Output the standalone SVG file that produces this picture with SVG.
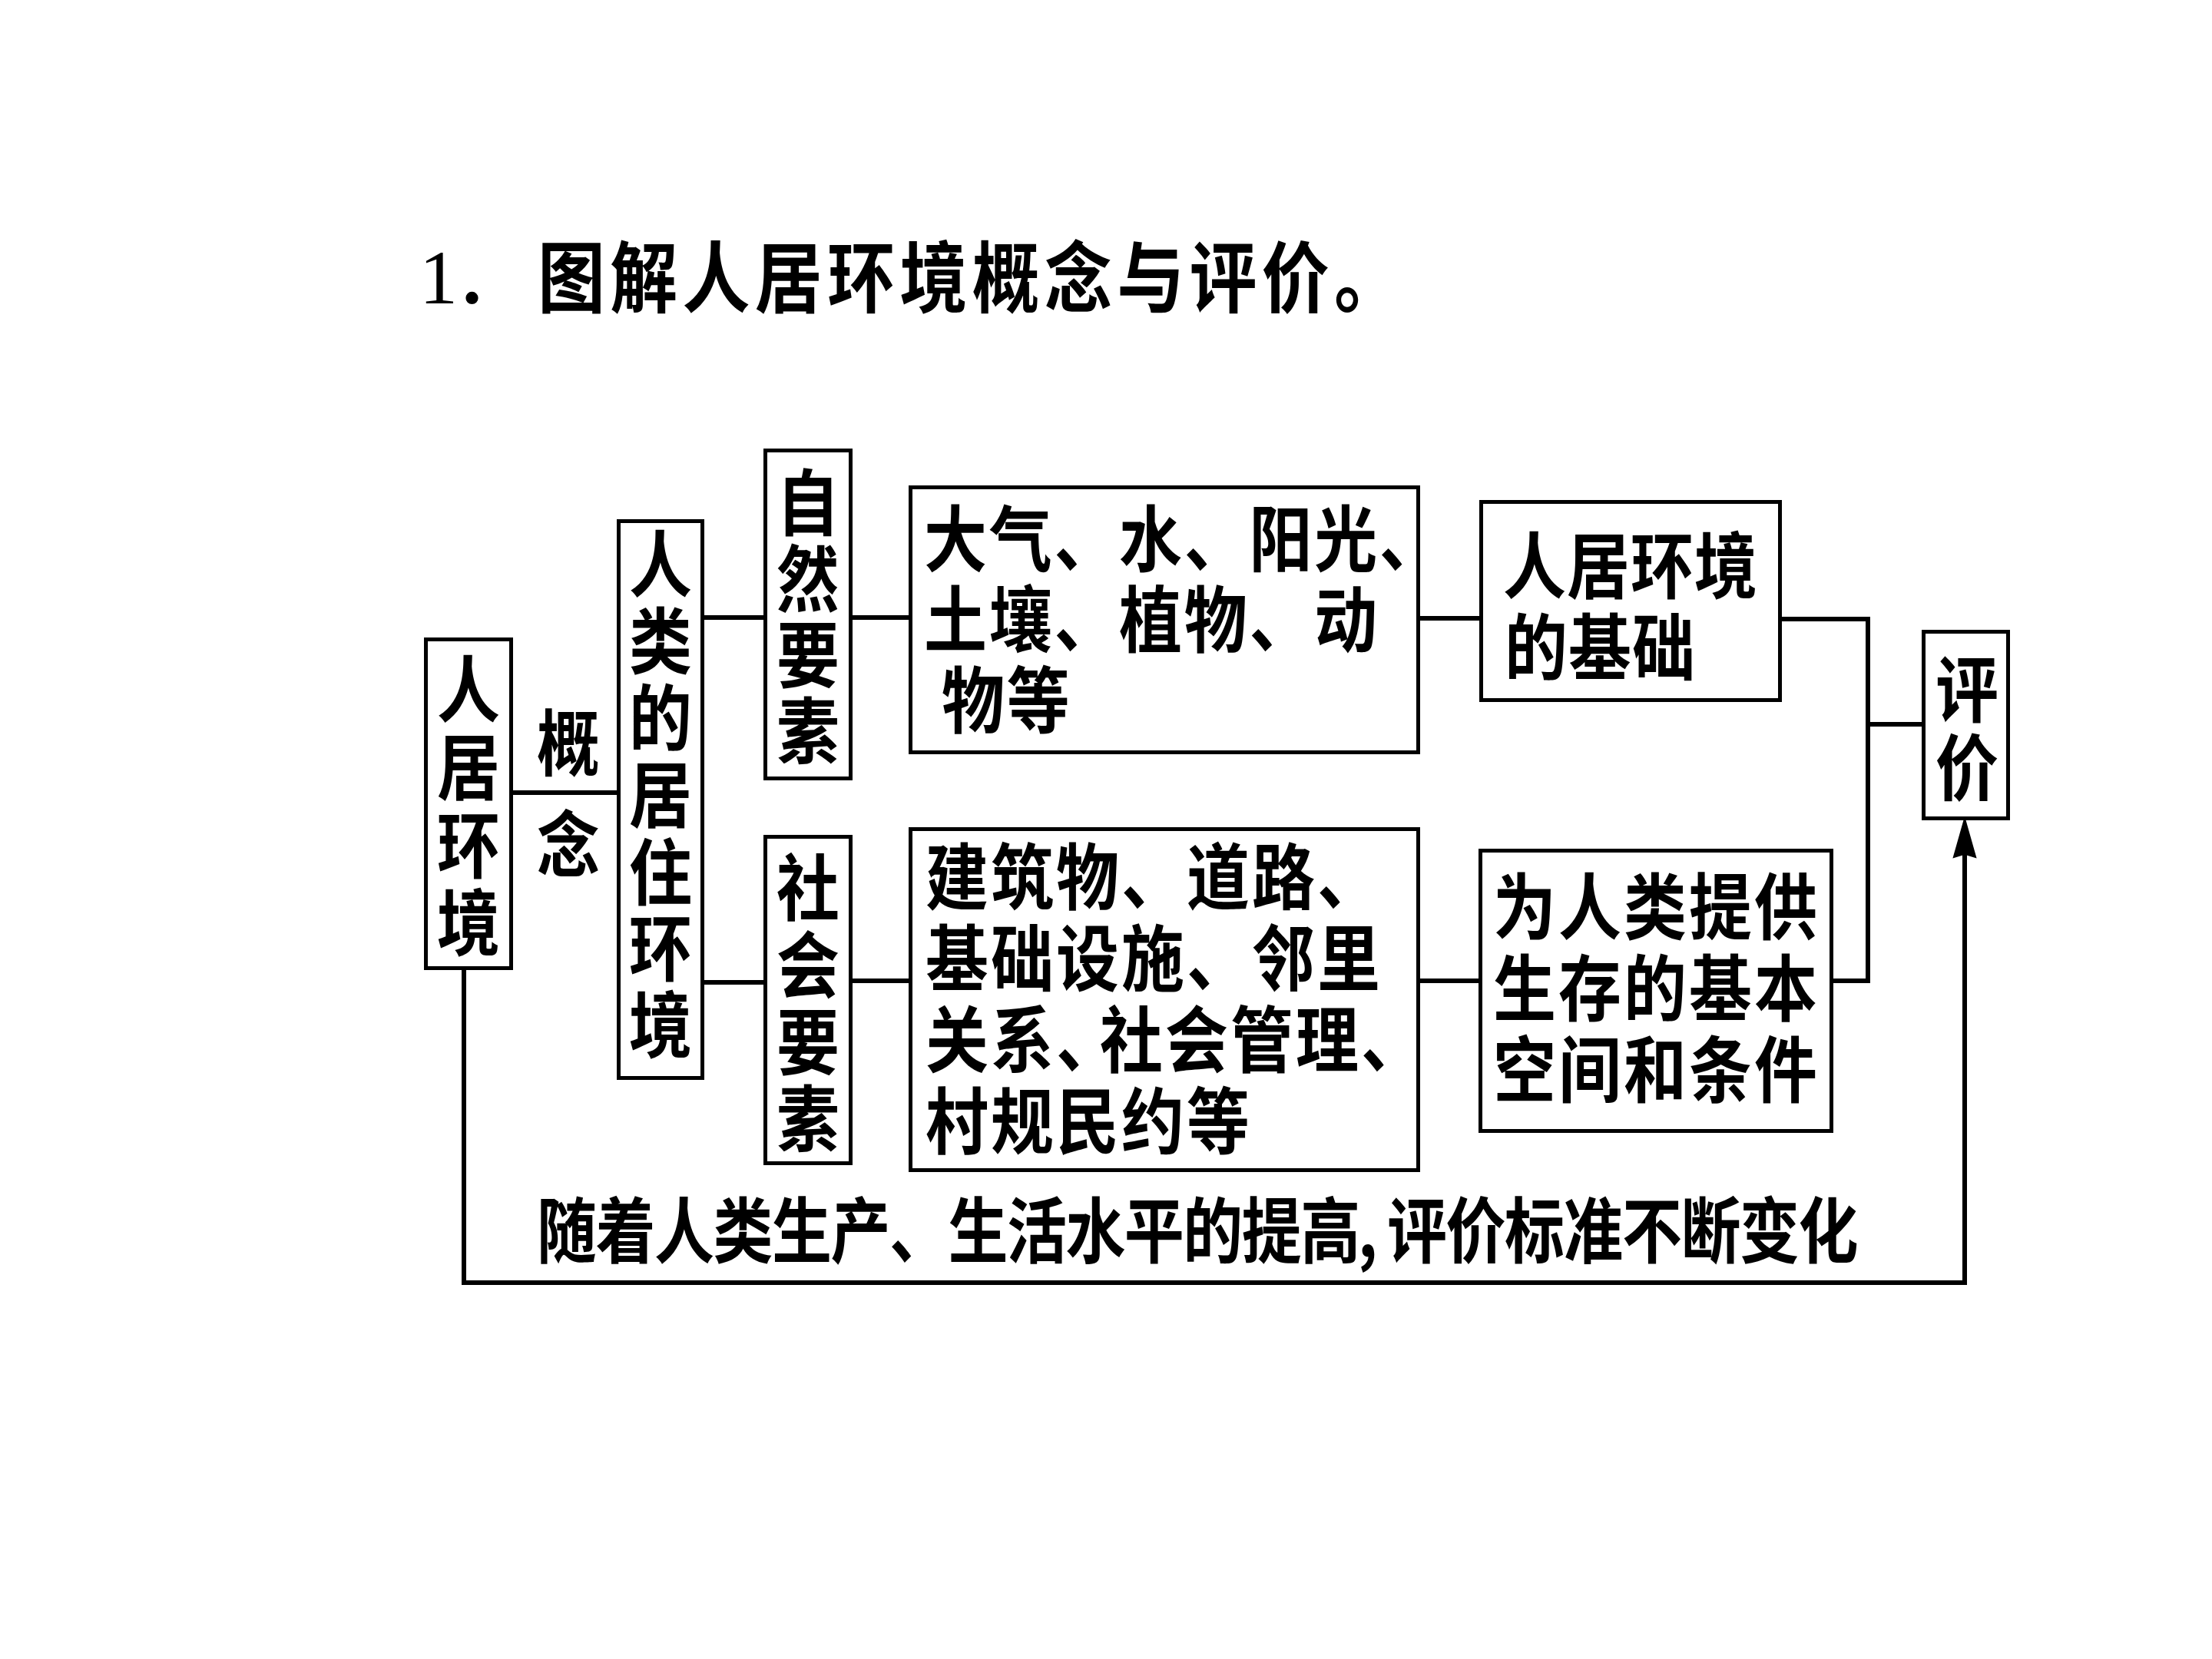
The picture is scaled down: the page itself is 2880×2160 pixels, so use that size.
<svg xmlns="http://www.w3.org/2000/svg" width="2880" height="2160" viewBox="0 0 2880 2160">
<defs>
<style>
.t{font-family:"Noto Sans CJK SC","Noto Sans CJK TC",sans-serif;font-weight:700;font-size:82px;fill:#000}
.t.big{font-size:88px}
.t.foot{font-size:78px}
.v{text-anchor:middle}
.box{fill:#fff;stroke:#000;stroke-width:5}
.ln{fill:none;stroke:#000;stroke-width:6}
</style>
<marker id="arr" markerUnits="userSpaceOnUse" markerWidth="60" markerHeight="40" viewBox="-10 -15 50 30" refX="0" refY="0" orient="auto">
<path d="M38,0 L-8,-13 L-4,0 L-8,13 Z" fill="#000"/>
</marker>
</defs>
<rect width="2880" height="2160" fill="#fff"/>

<g id="title">
<text x="546" y="395" font-family="Liberation Serif" font-size="100">1<tspan x="602" font-weight="bold">.</tspan></text>
<text class="t big" letter-spacing="6.3" x="700" transform="translate(0,399) scale(1,1.15)">图解人居环境概念与评价。</text>
</g>

<g id="connectors">
<path class="ln" d="M668,1032 H803"/>
<path class="ln" d="M917,804 H994"/>
<path class="ln" d="M917,1279 H994"/>
<path class="ln" d="M1110,804 H1183"/>
<path class="ln" d="M1110,1277 H1183"/>
<path class="ln" d="M1849,805 H1926"/>
<path class="ln" d="M1849,1277 H1925"/>
<path class="ln" d="M2320,806 H2432 V1277 H2387"/>
<path class="ln" d="M2432,943 H2502"/>
<path class="ln" d="M604,1263 V1670 H2558 V1108" marker-end="url(#arr)"/>
<text class="t v" transform="scale(1,1.15)"><tspan x="740" y="872.17">概</tspan><tspan x="740" y="986.96">念</tspan></text>
<text class="t foot" transform="translate(0,1637) scale(1,1.2)"><tspan x="699" letter-spacing="-1.5">随着人类生产、生活水平的提高</tspan><tspan x="1768">,</tspan><tspan x="1806" letter-spacing="-1.5">评价标准不断变化</tspan></text>
</g>

<g id="node-renju">
<rect class="box" x="554.5" y="832.5" width="111" height="428"/>
<text class="t v" transform="scale(1,1.15)"><tspan x="610" y="811.30">人</tspan><tspan x="610" y="899.13">居</tspan><tspan x="610" y="987.83">环</tspan><tspan x="610" y="1075.65">境</tspan></text>
</g>

<g id="node-juzhu">
<rect class="box" x="805.5" y="678.5" width="109" height="725"/>
<text class="t v" transform="scale(1,1.15)"><tspan x="860" y="669.57">人</tspan><tspan x="860" y="756.52">类</tspan><tspan x="860" y="843.48">的</tspan><tspan x="860" y="930.43">居</tspan><tspan x="860" y="1018.26">住</tspan><tspan x="860" y="1104.35">环</tspan><tspan x="860" y="1191.30">境</tspan></text>
</g>

<g id="node-ziran">
<rect class="box" x="996.5" y="586.5" width="111" height="427"/>
<text class="t v" transform="scale(1,1.15)"><tspan x="1052" y="600">自</tspan><tspan x="1052" y="686.09">然</tspan><tspan x="1052" y="772.17">要</tspan><tspan x="1052" y="858.26">素</tspan></text>
</g>

<g id="node-shehui">
<rect class="box" x="996.5" y="1089.5" width="111" height="425"/>
<text class="t v" transform="scale(1,1.15)"><tspan x="1052" y="1035.65">社</tspan><tspan x="1052" y="1123.48">会</tspan><tspan x="1052" y="1210.43">要</tspan><tspan x="1052" y="1297.39">素</tspan></text>
</g>

<g id="node-ziran-items">
<rect class="box" x="1185.5" y="634.5" width="661" height="345"/>
<text class="t" letter-spacing="2.7" transform="scale(1,1.15)"><tspan x="1203" y="640.87">大气、水、阳光、</tspan><tspan x="1203" y="732.17">土壤、植物、动</tspan><tspan x="1226" y="823.48">物等</tspan></text>
</g>

<g id="node-shehui-items">
<rect class="box" x="1185.5" y="1079.5" width="661" height="444"/>
<text class="t" transform="scale(1,1.15)"><tspan x="1205" y="1023.48" letter-spacing="3">建筑物、道路、</tspan><tspan x="1205" y="1115.65" letter-spacing="3">基础设施、邻里</tspan><tspan x="1205 1290 1375 1432 1517 1602 1687 1772" y="1207.83">关系、社会管理、</tspan><tspan x="1205" y="1300" letter-spacing="3">村规民约等</tspan></text>
</g>

<g id="node-jichu">
<rect class="box" x="1928.5" y="653.5" width="389" height="258"/>
<text class="t" letter-spacing="1" transform="scale(1,1.15)"><tspan x="1957" y="671.30">人居环境</tspan><tspan x="1959" y="763.48">的基础</tspan></text>
</g>

<g id="node-kongjian">
<rect class="box" x="1927.5" y="1107.5" width="457" height="365"/>
<text class="t" letter-spacing="3" transform="scale(1,1.15)"><tspan x="1944" y="1057.39">为人类提供</tspan><tspan x="1944" y="1149.57">生存的基本</tspan><tspan x="1944" y="1241.74">空间和条件</tspan></text>
</g>

<g id="node-pingjia">
<rect class="box" x="2504.5" y="822.5" width="110" height="243"/>
<text class="t v" transform="scale(1,1.15)"><tspan x="2561" y="811.30">评</tspan><tspan x="2561" y="900">价</tspan></text>
</g>
</svg>
